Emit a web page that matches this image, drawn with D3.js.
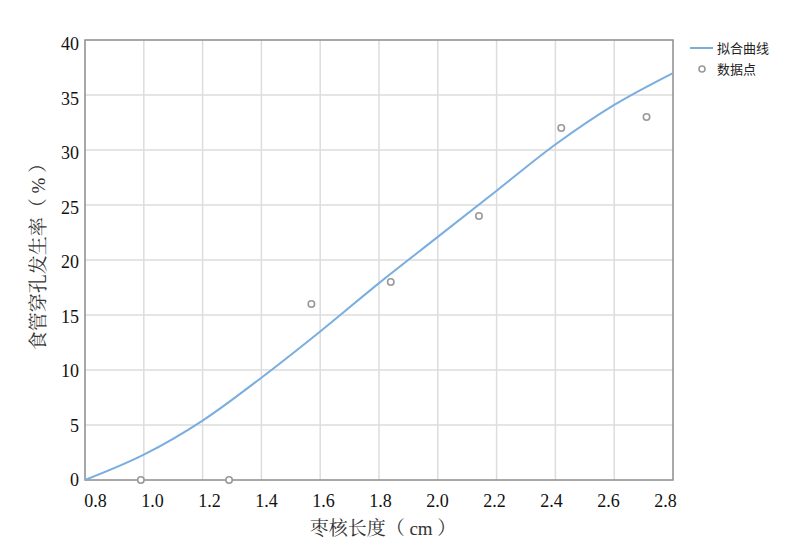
<!DOCTYPE html>
<html><head><meta charset="utf-8">
<script src="https://cdn.jsdelivr.net/npm/d3@7"></script>
<style>body{margin:0;background:#fff}</style>
</head><body>
<svg id="c" width="805" height="547"></svg>
<script>
const xTicks = [0.8, 1.0, 1.2, 1.4, 1.6, 1.8, 2.0, 2.2, 2.4, 2.6, 2.8];
const yTicks = [0, 5, 10, 15, 20, 25, 30, 35, 40];
const curveX = [0.8, 1.0, 1.2, 1.4, 1.6, 1.8, 2.0, 2.2, 2.4, 2.6, 2.8];
const curveY = [0, 2.3, 5.4, 9.3, 13.5, 17.9, 22.1, 26.3, 30.5, 34.1, 37.0];
const pointX = [0.99, 1.29, 1.57, 1.84, 2.14, 2.42, 2.71];
const pointY = [0, 0, 16, 18, 24, 32, 33];
const legendLabels = ["拟合曲线", "数据点"];
const xTitle = "枣核长度（ cm ）";
const yTitle = "食管穿孔发生率（ % ）";

const serif = '"Liberation Serif", "Times New Roman", serif';
const titleFont = '"Liberation Serif", "Noto Serif CJK SC", serif';
const cjk = '"Noto Sans CJK SC", "Noto Sans", sans-serif';

const svg = d3.select("#c");
const L = 85, R = 673, T = 40, B = 480;
const x = d3.scaleLinear().domain([0.8, 2.8]).range([L, R]);
const y = d3.scaleLinear().domain([0, 40]).range([B, T]);
// tick labels in the reference are laid out on slightly different spacing than the grid
const xLab = d3.scaleLinear().domain([0.8, 2.8]).range([95, 665]);
const yLab = d3.scaleLinear().domain([0, 40]).range([480, 44]);

// grid
svg.append("g").selectAll("line").data(xTicks.slice(1, -1)).join("line")
  .attr("x1", d => x(d)).attr("x2", d => x(d)).attr("y1", T).attr("y2", B)
  .attr("stroke", "#dddddd").attr("stroke-width", 1.5);
svg.append("g").selectAll("line").data(yTicks.slice(1, -1)).join("line")
  .attr("x1", L).attr("x2", R).attr("y1", d => y(d)).attr("y2", d => y(d))
  .attr("stroke", "#dddddd").attr("stroke-width", 1.5);

// frame
svg.append("rect").attr("x", L).attr("y", T).attr("width", R - L).attr("height", B - T)
  .attr("fill", "none").attr("stroke", "#8c8c8c").attr("stroke-width", 1.5);

// axes (labels via d3 axis generators)
const xAxis = svg.append("g").attr("transform", `translate(0,${B})`)
  .call(d3.axisBottom(xLab).tickValues(xTicks).tickFormat(d3.format(".1f")).tickSize(0).tickPadding(14));
xAxis.select(".domain").remove();
xAxis.selectAll("text").style("font-family", serif).style("font-size", "18px").attr("fill", "#111");

const yAxis = svg.append("g").attr("transform", `translate(${L},0)`)
  .call(d3.axisLeft(yLab).tickValues(yTicks).tickFormat(d3.format("d")).tickSize(0).tickPadding(6));
yAxis.select(".domain").remove();
yAxis.selectAll("text").style("font-family", serif).style("font-size", "18px").attr("fill", "#111");

// curve
const line = d3.line().x(d => x(d[0])).y(d => y(d[1])).curve(d3.curveMonotoneX);
svg.append("path").datum(curveX.map((v, i) => [v, curveY[i]]))
  .attr("d", line).attr("fill", "none").attr("stroke", "#7aaee0").attr("stroke-width", 2);

// points
svg.append("g").selectAll("circle").data(pointX.map((v, i) => [v, pointY[i]])).join("circle")
  .attr("cx", d => x(d[0])).attr("cy", d => y(d[1])).attr("r", 3.2)
  .attr("fill", "#fff").attr("stroke", "#999").attr("stroke-width", 1.6);

// axis titles
svg.append("text").attr("x", 383).attr("y", 535).attr("text-anchor", "middle")
  .style("font-family", titleFont).style("font-size", "19px").attr("fill", "#333").text(xTitle);
svg.append("text").attr("transform", "translate(45,252) rotate(-90)").attr("text-anchor", "middle")
  .style("font-family", titleFont).style("font-size", "19px").attr("fill", "#333").text(yTitle);

// legend
const lg = svg.append("g");
lg.append("line").attr("x1", 690).attr("x2", 713).attr("y1", 48).attr("y2", 48)
  .attr("stroke", "#7aaee0").attr("stroke-width", 2);
lg.append("circle").attr("cx", 702).attr("cy", 69).attr("r", 3)
  .attr("fill", "#fff").attr("stroke", "#999").attr("stroke-width", 1.6);
lg.selectAll("text").data(legendLabels).join("text")
  .attr("x", 717).attr("y", (d, i) => 48 + i * 21).attr("dy", "0.35em")
  .style("font-family", cjk).style("font-size", "13px").attr("fill", "#222").text(d => d);
</script>
</body></html>
